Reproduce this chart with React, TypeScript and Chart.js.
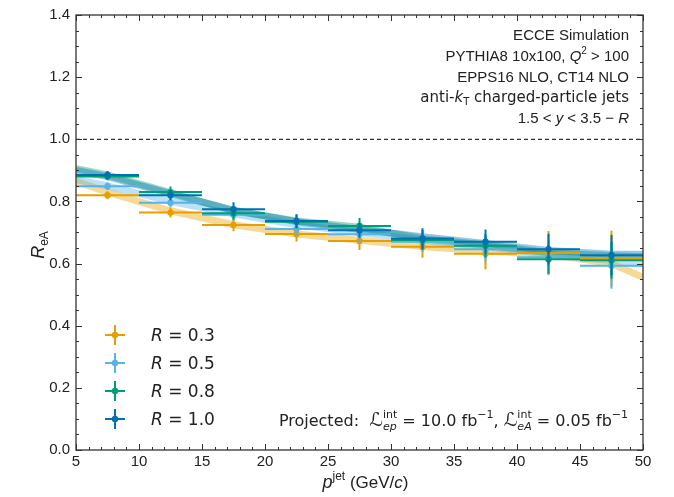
import React, { useEffect, useRef } from "react";
import { Chart, registerables } from "chart.js";

Chart.register(...registerables);

// ---------- data ----------
const binCenters = [7.5, 12.5, 17.5, 22.5, 27.5, 32.5, 37.5, 42.5, 47.5];
const binHalfWidth = 2.5;

const r03 = [0.820, 0.764, 0.724, 0.695, 0.673, 0.654, 0.632, 0.634, 0.616];
const r05 = [0.849, 0.796, 0.757, 0.711, 0.694, 0.670, 0.646, 0.620, 0.593];
const r08 = [0.880, 0.830, 0.762, 0.735, 0.721, 0.676, 0.657, 0.614, 0.611];
const r10 = [0.885, 0.820, 0.775, 0.737, 0.707, 0.681, 0.670, 0.646, 0.627];

const r03Err = [0.013, 0.016, 0.020, 0.024, 0.029, 0.035, 0.050, 0.071, 0.090];
const r05Err = [0.012, 0.015, 0.019, 0.022, 0.026, 0.033, 0.042, 0.055, 0.074];
const r08Err = [0.012, 0.018, 0.020, 0.022, 0.026, 0.032, 0.038, 0.046, 0.060];
const r10Err = [0.013, 0.016, 0.022, 0.022, 0.024, 0.033, 0.040, 0.050, 0.065];

const bandX = [5, 7.5, 12.5, 17.5, 22.5, 27.5, 32.5, 37.5, 42.5, 47.5, 50];
const band03 = [0.865, 0.830, 0.770, 0.725, 0.695, 0.675, 0.655, 0.640, 0.630, 0.600, 0.556];
const band05 = [0.870, 0.850, 0.800, 0.760, 0.725, 0.700, 0.675, 0.655, 0.630, 0.610, 0.600];
const band08 = [0.905, 0.885, 0.828, 0.770, 0.737, 0.717, 0.680, 0.660, 0.635, 0.625, 0.622];
const band10 = [0.900, 0.880, 0.824, 0.772, 0.735, 0.710, 0.686, 0.665, 0.642, 0.630, 0.630];

const refLineX = [5, 50];
const refLineY = [1.0, 1.0];

const seriesLabels = ["0.3", "0.5", "0.8", "1.0"];
const seriesColors = ["#E69F00", "#56B4E9", "#009E73", "#0072B2"];
const bandColors = [
  "rgba(230,159,0,0.40)",
  "rgba(86,180,233,0.40)",
  "rgba(0,158,115,0.40)",
  "rgba(0,114,178,0.40)",
];

const xTickValues = [5, 10, 15, 20, 25, 30, 35, 40, 45, 50];

// ---------- helpers ----------
const SANS = "'Liberation Sans', 'DejaVu Sans', sans-serif";
const WIDE = "'DejaVu Sans', 'Liberation Sans', sans-serif";
const TEXT = "#222";

type Seg = { t: string; font: string; dy?: number; stack?: boolean };

function segWidth(ctx: CanvasRenderingContext2D, segs: Seg[]) {
  let w = 0;
  let pend = 0;
  for (const s of segs) {
    ctx.font = s.font;
    const sw = ctx.measureText(s.t).width;
    if (s.stack) {
      pend = sw;
    } else {
      w += Math.max(sw, pend);
      pend = 0;
    }
  }
  return w + pend;
}

function drawRich(ctx: CanvasRenderingContext2D, segs: Seg[], x: number, y: number, align: "left" | "right" | "center") {
  const w = segWidth(ctx, segs);
  let cx = align === "left" ? x : align === "right" ? x - w : x - w / 2;
  ctx.textAlign = "left";
  ctx.textBaseline = "alphabetic";
  let pend = 0;
  for (const s of segs) {
    ctx.font = s.font;
    ctx.fillText(s.t, cx, y + (s.dy || 0));
    const sw = ctx.measureText(s.t).width;
    if (s.stack) {
      pend = sw;
    } else {
      cx += Math.max(sw, pend);
      pend = 0;
    }
  }
}

const f = (size: number, italic = false, fam = SANS) => `${italic ? "italic " : ""}${size}px ${fam}`;

const decorPlugin = {
  id: "decor",
  beforeDatasetDraw(chart: any, args: any) {
    const ds = chart.data.datasets[args.index];
    if (!ds.errY) return;
    const ctx = chart.ctx;
    const xs = chart.scales.x;
    const ys = chart.scales.y;
    ctx.save();
    ctx.strokeStyle = ds.borderColor;
    ctx.lineWidth = 2;
    ds.data.forEach((p: any, i: number) => {
      const px = xs.getPixelForValue(p.x);
      const x0 = xs.getPixelForValue(p.x - ds.errX);
      const x1 = xs.getPixelForValue(p.x + ds.errX);
      const py = ys.getPixelForValue(p.y);
      const y0 = ys.getPixelForValue(p.y - ds.errY[i]);
      const y1 = ys.getPixelForValue(p.y + ds.errY[i]);
      ctx.beginPath();
      ctx.moveTo(x0, py);
      ctx.lineTo(x1, py);
      ctx.moveTo(px, y0);
      ctx.lineTo(px, y1);
      ctx.stroke();
    });
    ctx.restore();
  },
  afterDraw(chart: any) {
    const ctx = chart.ctx as CanvasRenderingContext2D;
    const { left, right, top, bottom } = chart.chartArea;
    const xs = chart.scales.x;
    const ys = chart.scales.y;
    ctx.save();
    // frame
    ctx.strokeStyle = "#333";
    ctx.lineWidth = 1.3;
    ctx.strokeRect(left, top, right - left, bottom - top);
    // ticks
    ctx.lineWidth = 1;
    ctx.beginPath();
    for (let v = 5; v <= 50; v += 1) {
      const px = Math.round(xs.getPixelForValue(v)) + 0.5;
      const len = v % 5 === 0 ? 6 : 3;
      ctx.moveTo(px, bottom);
      ctx.lineTo(px, bottom - len);
      ctx.moveTo(px, top);
      ctx.lineTo(px, top + len);
    }
    for (let i = 0; i <= 28; i++) {
      const py = Math.round(ys.getPixelForValue(i * 0.05)) + 0.5;
      const len = i % 4 === 0 ? 6 : 3;
      ctx.moveTo(left, py);
      ctx.lineTo(left + len, py);
      ctx.moveTo(right, py);
      ctx.lineTo(right - len, py);
    }
    ctx.stroke();

    ctx.fillStyle = TEXT;
    // info text (top right)
    const rx = 629;
    drawRich(ctx, [{ t: "ECCE Simulation", font: f(15) }], rx, 40, "right");
    drawRich(
      ctx,
      [
        { t: "PYTHIA8 10x100, ", font: f(15) },
        { t: "Q", font: f(15, true) },
        { t: "2", font: f(10), dy: -7 },
        { t: " > 100", font: f(15) },
      ],
      rx,
      61,
      "right"
    );
    drawRich(ctx, [{ t: "EPPS16 NLO, CT14 NLO", font: f(15) }], rx, 82, "right");
    drawRich(
      ctx,
      [
        { t: "anti-", font: f(15, false, WIDE) },
        { t: "k", font: f(15, true, WIDE) },
        { t: "T", font: f(10, false, WIDE), dy: 3 },
        { t: " charged-particle jets", font: f(15, false, WIDE) },
      ],
      rx,
      102,
      "right"
    );
    drawRich(
      ctx,
      [
        { t: "1.5 < ", font: f(15) },
        { t: "y", font: f(15, true) },
        { t: " < 3.5 − ", font: f(15) },
        { t: "R", font: f(15, true) },
      ],
      rx,
      123,
      "right"
    );

    // projected luminosity
    drawRich(
      ctx,
      [
        { t: "Projected:  ", font: f(16, false, WIDE) },
        { t: "ℒ", font: f(19, true, WIDE) },
        { t: "int", font: f(11, false, WIDE), dy: -8, stack: true },
        { t: "ep", font: f(11, true, WIDE), dy: 4 },
        { t: " = 10.0 fb", font: f(16, false, WIDE) },
        { t: "−1", font: f(11, false, WIDE), dy: -8 },
        { t: ", ", font: f(16, false, WIDE) },
        { t: "ℒ", font: f(19, true, WIDE) },
        { t: "int", font: f(11, false, WIDE), dy: -8, stack: true },
        { t: "eA", font: f(11, true, WIDE), dy: 4 },
        { t: " = 0.05 fb", font: f(16, false, WIDE) },
        { t: "−1", font: f(11, false, WIDE), dy: -8 },
      ],
      628,
      426,
      "right"
    );

    // legend
    const legendY = [335, 363, 391, 419];
    seriesLabels.forEach((lab, i) => {
      const cx = 115;
      const cy = legendY[i];
      ctx.strokeStyle = seriesColors[i];
      ctx.lineWidth = 2;
      ctx.beginPath();
      ctx.moveTo(cx - 10, cy);
      ctx.lineTo(cx + 10, cy);
      ctx.moveTo(cx, cy - 10);
      ctx.lineTo(cx, cy + 10);
      ctx.stroke();
      ctx.fillStyle = seriesColors[i];
      ctx.beginPath();
      ctx.arc(cx, cy, 3.2, 0, Math.PI * 2);
      ctx.fill();
      ctx.fillStyle = TEXT;
      drawRich(
        ctx,
        [
          { t: "R", font: f(17, true, WIDE) },
          { t: " = " + lab, font: f(17, false, WIDE) },
        ],
        151,
        cy + 6,
        "left"
      );
    });

    // x title
    drawRich(
      ctx,
      [
        { t: "p", font: f(18, true) },
        { t: "jet", font: f(12), dy: -8 },
        { t: " (GeV/", font: f(17) },
        { t: "c", font: f(17, true) },
        { t: ")", font: f(17) },
      ],
      (left + right) / 2 + 6,
      488,
      "center"
    );

    // y title
    ctx.translate(44, 245);
    ctx.rotate(-Math.PI / 2);
    drawRich(
      ctx,
      [
        { t: "R", font: f(18, true) },
        { t: "eA", font: f(12), dy: 4 },
      ],
      0,
      0,
      "center"
    );
    ctx.restore();
  },
};

export default function App() {
  const ref = useRef<HTMLCanvasElement | null>(null);

  useEffect(() => {
    if (!ref.current) return;
    const pts = (ys: number[]) => binCenters.map((x, i) => ({ x, y: ys[i] }));
    const band = (ys: number[]) => bandX.map((x, i) => ({ x, y: ys[i] }));
    const values = [r03, r05, r08, r10];
    const errs = [r03Err, r05Err, r08Err, r10Err];
    const bands = [band03, band05, band08, band10];

    const datasets: any[] = [];
    bands.forEach((b, i) => {
      datasets.push({
        type: "line",
        data: band(b),
        borderColor: bandColors[i],
        borderWidth: 7,
        pointRadius: 0,
        tension: 0,
        order: 20 - i,
        borderCapStyle: "butt",
      });
    });
    datasets.push({
      type: "line",
      data: refLineX.map((x, i) => ({ x, y: refLineY[i] })),
      borderColor: "#333",
      borderWidth: 1.2,
      borderDash: [4, 3],
      pointRadius: 0,
      order: 15,
    });
    values.forEach((v, i) => {
      datasets.push({
        type: "scatter",
        data: pts(v),
        borderColor: seriesColors[i],
        backgroundColor: seriesColors[i],
        pointRadius: 3.2,
        pointBorderWidth: 0,
        order: 8 - i,
        errY: errs[i],
        errX: binHalfWidth,
      });
    });

    const tickFont = { family: SANS, size: 15 };

    const chart = new Chart(ref.current, {
      type: "scatter",
      data: { datasets },
      options: {
        animation: false,
        responsive: false,
        maintainAspectRatio: false,
        layout: { padding: { top: 13, right: 31, left: 0, bottom: 0 } },
        plugins: { legend: { display: false }, tooltip: { enabled: false } },
        scales: {
          x: {
            type: "linear",
            min: 5,
            max: 50,
            grid: { display: false, drawTicks: false },
            border: { display: false },
            afterBuildTicks: (s: any) => {
              s.ticks = xTickValues.map((v) => ({ value: v }));
            },
            ticks: {
              padding: 3,
              color: TEXT,
              maxRotation: 0,
              autoSkip: false,
              font: tickFont,
            },
            afterFit: (s: any) => {
              s.height = 47;
            },
          },
          y: {
            type: "linear",
            min: 0,
            max: 1.4,
            grid: { display: false, drawTicks: false },
            border: { display: false },
            ticks: {
              stepSize: 0.2,
              padding: 6,
              color: TEXT,
              callback: (v: any) => Number(v).toFixed(1),
              font: tickFont,
            },
            afterFit: (s: any) => {
              s.width = 76;
            },
          },
        },
      } as any,
      plugins: [decorPlugin as any],
    });
    return () => chart.destroy();
  }, []);

  return (
    <div style={{ position: "fixed", left: 0, top: 0, width: 674, height: 497, background: "#fff" }}>
      <canvas ref={ref} width={674} height={497} style={{ width: 674, height: 497 }} />
    </div>
  );
}
